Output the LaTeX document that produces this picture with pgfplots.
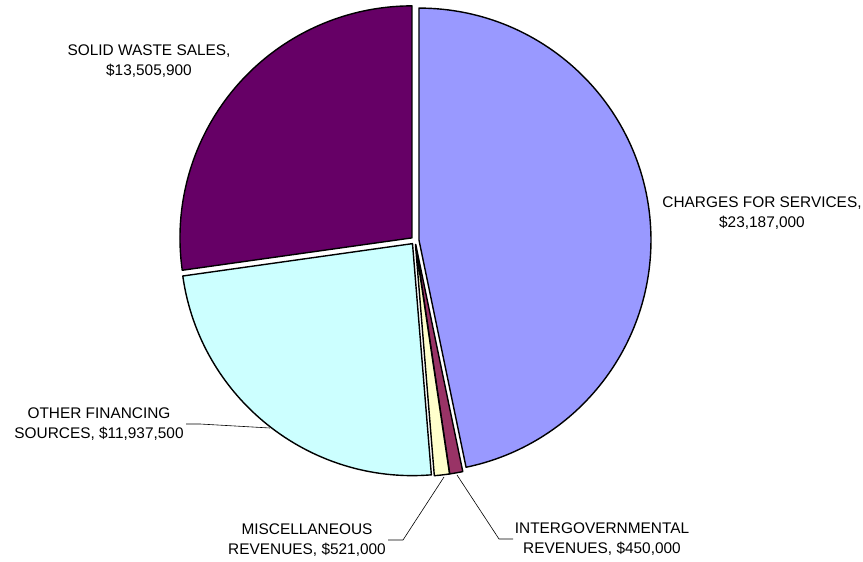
\documentclass[border=0pt]{standalone}
\usepackage{pgfplots}
\pgfplotsset{compat=1.18}
\usepackage{pgfplotstable}
\usepackage{fontspec}
\setmainfont{Liberation Sans}

% slice colours, in table order
\definecolor{pie0}{HTML}{9999FF}
\definecolor{pie1}{HTML}{993366}
\definecolor{pie2}{HTML}{FFFFCC}
\definecolor{pie3}{HTML}{CCFFFF}
\definecolor{pie4}{HTML}{660066}

\pgfplotstableread{
value
23187000
450000
521000
11937500
13505900
}\piedata

% pie geometry in picture units (1 unit = 1pt, y downwards)
\newcommand\cx{415}
\newcommand\cy{240.5}
\newcommand\rad{232}
\newcommand\expl{4}

\pgfplotstablegetrowsof{\piedata}
\pgfmathtruncatemacro\nrows{\pgfplotsretval-1}
\gdef\total{0}
\foreach \i in {0,...,\nrows}{%
  \pgfplotstablegetelem{\i}{value}\of\piedata
  \xdef\total{\fpeval{\total+\pgfplotsretval}}%
}
\gdef\cum{0}
\foreach \i in {0,...,\nrows}{%
  \pgfplotstablegetelem{\i}{value}\of\piedata
  \edef\v{\pgfplotsretval}%
  \edef\s{\fpeval{90-360*\cum/\total}}%
  \xdef\cum{\fpeval{\cum+\v}}%
  \edef\e{\fpeval{90-360*\cum/\total}}%
  \expandafter\xdef\csname pieS\i\endcsname{\s}%
  \expandafter\xdef\csname pieE\i\endcsname{\e}%
  \expandafter\xdef\csname pieX\i\endcsname{\fpeval{\cx+\expl*cosd((\s+\e)/2)}}%
  \expandafter\xdef\csname pieY\i\endcsname{\fpeval{\cy-\expl*sind((\s+\e)/2)}}%
}

\begin{document}
\begin{tikzpicture}
\begin{axis}[
    width=863pt, height=562pt,
    scale only axis,
    xmin=0, xmax=863,
    ymin=0, ymax=562,
    y dir=reverse,
    hide axis,
    clip=false,
]
\pgfplotsinvokeforeach{0,...,4}{
  \fill[fill=pie#1, draw=black, line width=1.4pt, line join=round]
    (axis cs:\csname pieX#1\endcsname,\csname pieY#1\endcsname)
    -- ++(\csname pieS#1\endcsname:\rad pt)
    arc[start angle=\csname pieS#1\endcsname, end angle=\csname pieE#1\endcsname, radius=\rad pt]
    -- cycle;
}

% leader lines
\draw[line width=0.6pt] (axis cs:186,424) -- (axis cs:200,424) -- (axis cs:270,428);
\draw[line width=0.6pt] (axis cs:388,540) -- (axis cs:403,540) -- (axis cs:444,477);
\draw[line width=0.6pt] (axis cs:513,539) -- (axis cs:499,539) -- (axis cs:457,475);

% labels
\tikzset{lbl/.style={align=center, inner sep=0pt, font=\fontsize{15.4}{20.5}\selectfont}}
\node[lbl] at (axis cs:149,61) {SOLID WASTE SALES,\\\$13,505,900};
\node[lbl] at (axis cs:762,213) {CHARGES FOR SERVICES,\\\$23,187,000};
\node[lbl] at (axis cs:99,424) {OTHER FINANCING\\SOURCES, \$11,937,500};
\node[lbl] at (axis cs:307,540) {MISCELLANEOUS\\REVENUES, \$521,000};
\node[lbl] at (axis cs:602,539) {INTERGOVERNMENTAL\\REVENUES, \$450,000};

\coordinate (BL) at (rel axis cs:0,0);
\coordinate (TR) at (rel axis cs:1,1);
\end{axis}
\pgfresetboundingbox
\path[use as bounding box] (BL) rectangle (TR);
\end{tikzpicture}
\end{document}
